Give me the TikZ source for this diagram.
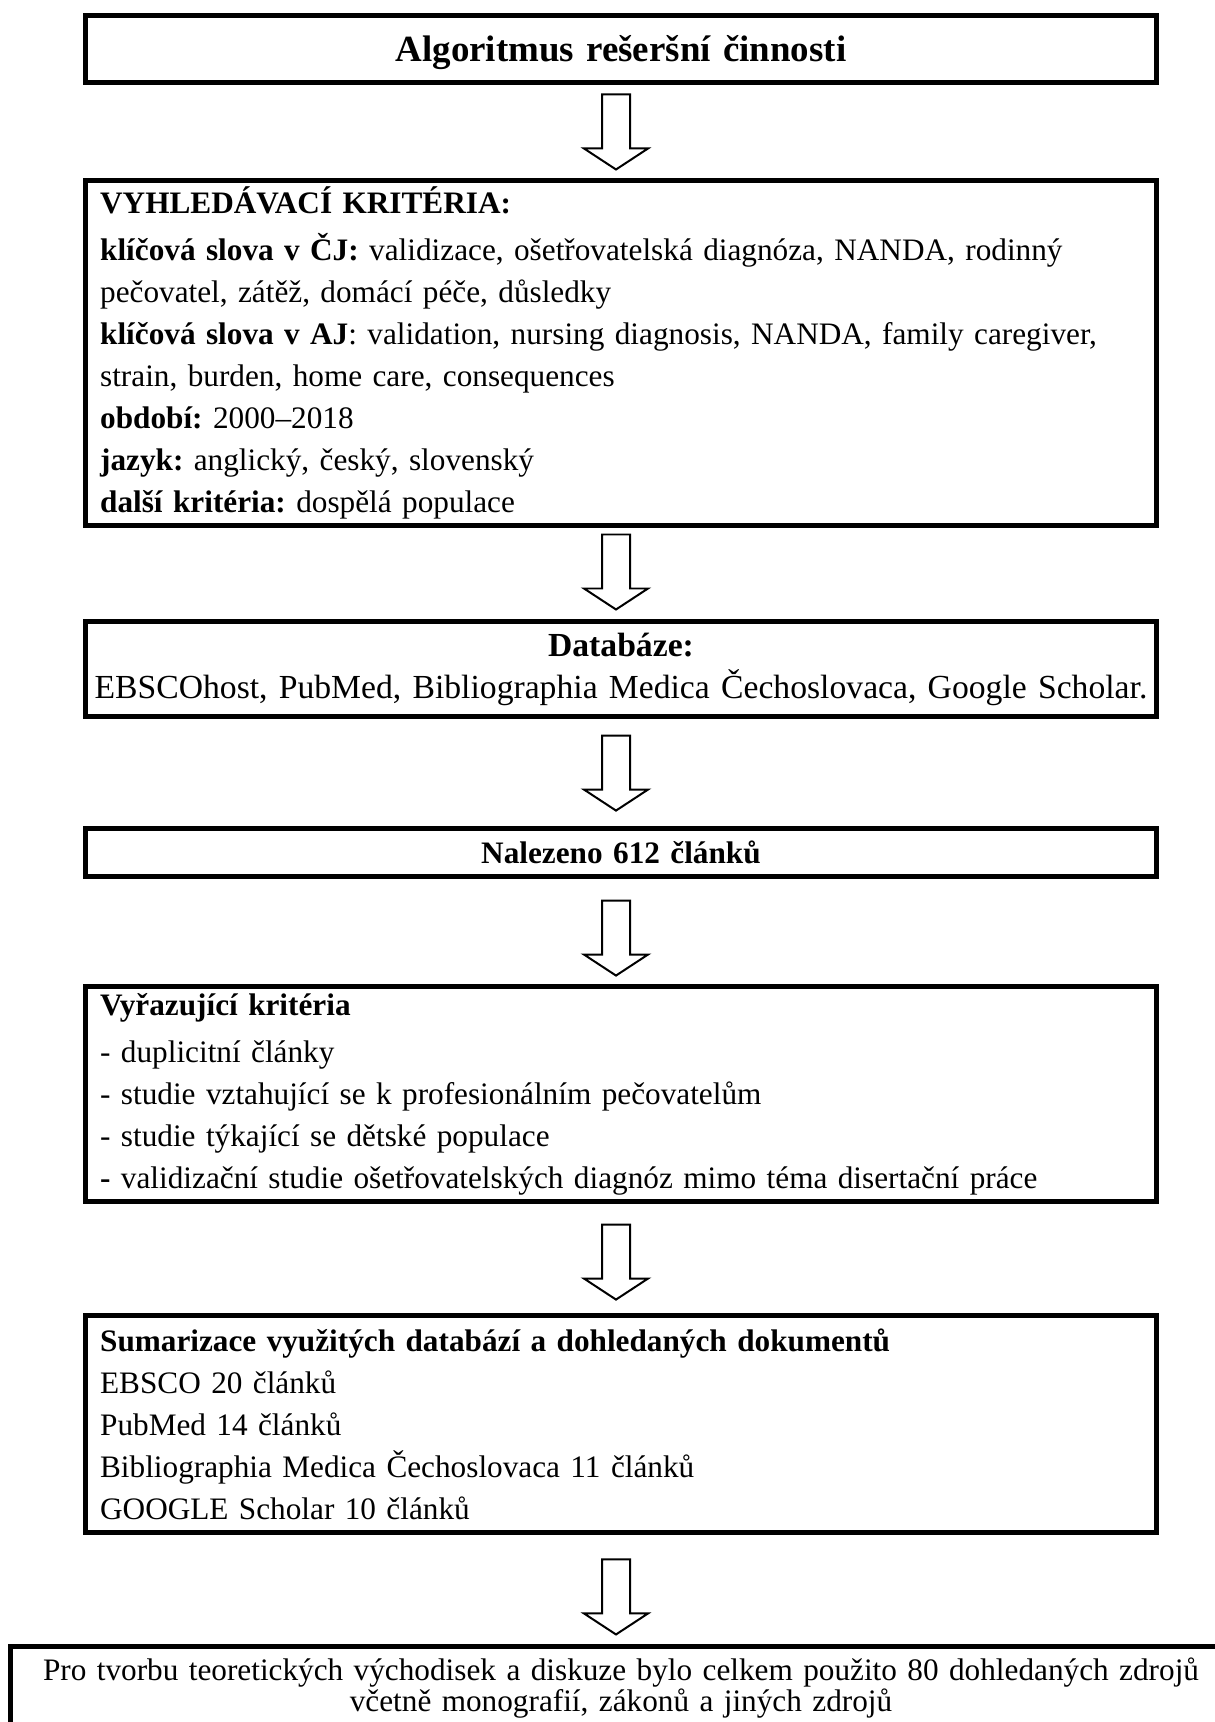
\documentclass[tikz,border=0pt]{standalone}
\usepackage{fontspec}
\setmainfont{Liberation Serif}
\usetikzlibrary{calc}

\begin{document}
\frenchspacing
\begin{tikzpicture}[
    x=0.352pt,
    y=-0.352pt,
    box/.style={
        rectangle,
        draw=black,
        fill=white,
        line width=1.76pt,
        minimum width=377.3pt,
        inner xsep=5.3pt,
        inner ysep=0pt,
        text width=366.7pt,
        align=center,
        font=\fontsize{11pt}{14.8pt}\selectfont
    },
    listbox/.style={
        box,
        align=left
    },
    hollow/.style={
        draw=black,
        fill=white,
        line width=0.7pt
    }
]

\useasboundingbox (0,0) rectangle (1214,1722);

% --- Title ---
\node[box, minimum height=23.9pt, text height=11pt, text depth=2pt,
      font=\bfseries\fontsize{13pt}{15pt}\selectfont] (A) at (621,49)
    {Algoritmus rešeršní činnosti};

% --- Search criteria ---
\node[listbox, minimum height=121.1pt] (B) at (621,353)
    {\textbf{VYHLEDÁVACÍ KRITÉRIA:}\\[1.7pt]
     \mbox{\textbf{klíčová slova v ČJ:} validizace, ošetřovatelská diagnóza, NANDA, rodinný}\\
     pečovatel, zátěž, domácí péče, důsledky\\
     \mbox{\textbf{klíčová slova v AJ}: validation, nursing diagnosis, NANDA, family caregiver,}\\
     strain, burden, home care, consequences\\
     \textbf{období:} 2000–2018\\
     \textbf{jazyk:} anglický, český, slovenský\\
     \textbf{další kritéria:} dospělá populace};

% --- Databases ---
\node[box, minimum height=33.1pt, inner xsep=1pt, text width=375pt,
      font=\fontsize{11.85pt}{14.8pt}\selectfont] (C) at (621,669)
    {\textbf{Databáze:}\\
     EBSCOhost, PubMed, Bibliographia Medica Čechoslovaca, Google Scholar.};

% --- Found ---
\node[box, minimum height=17.2pt] (D) at (621,852.5)
    {\textbf{Nalezeno 612 článků}};

% --- Exclusion criteria ---
\node[listbox, minimum height=76pt] (E) at (621,1094)
    {\textbf{Vyřazující kritéria}\\[1.7pt]
     - duplicitní články\\
     - studie vztahující se k profesionálním pečovatelům\\
     - studie týkající se dětské populace\\
     \mbox{\textbf{-} validizační studie ošetřovatelských diagnóz mimo téma disertační práce}};

% --- Summary ---
\node[listbox, minimum height=76.7pt] (F) at (621,1424)
    {\textbf{Sumarizace využitých databází a dohledaných dokumentů}\\
     EBSCO 20 článků\\
     PubMed 14 článků\\
     Bibliographia Medica Čechoslovaca 11 článků\\
     GOOGLE Scholar 10 článků};

% --- Result (runs past the page edge) ---
\node[box, minimum width=430pt, text width=424pt, inner xsep=3pt, minimum height=28.9pt,
      font=\fontsize{11pt}{11pt}\selectfont] (G) at (621,1688)
    {Pro tvorbu teoretických východisek a diskuze bylo celkem použito 80 dohledaných zdrojů\\
     včetně monografií, zákonů a jiných zdrojů};

% --- Hollow arrows between the boxes ---
\foreach \a/\b/\g in {A/B/9, B/C/10, C/D/15, D/E/8, E/F/13, F/G/10}
    \draw[hollow] ($(\b.north)+(-5,-\g)$) -- ++(-32,-21) -- ++(18,0) -- ++(0,-54)
        -- ++(28,0) -- ++(0,54) -- ++(18,0) -- cycle;

\end{tikzpicture}
\end{document}
